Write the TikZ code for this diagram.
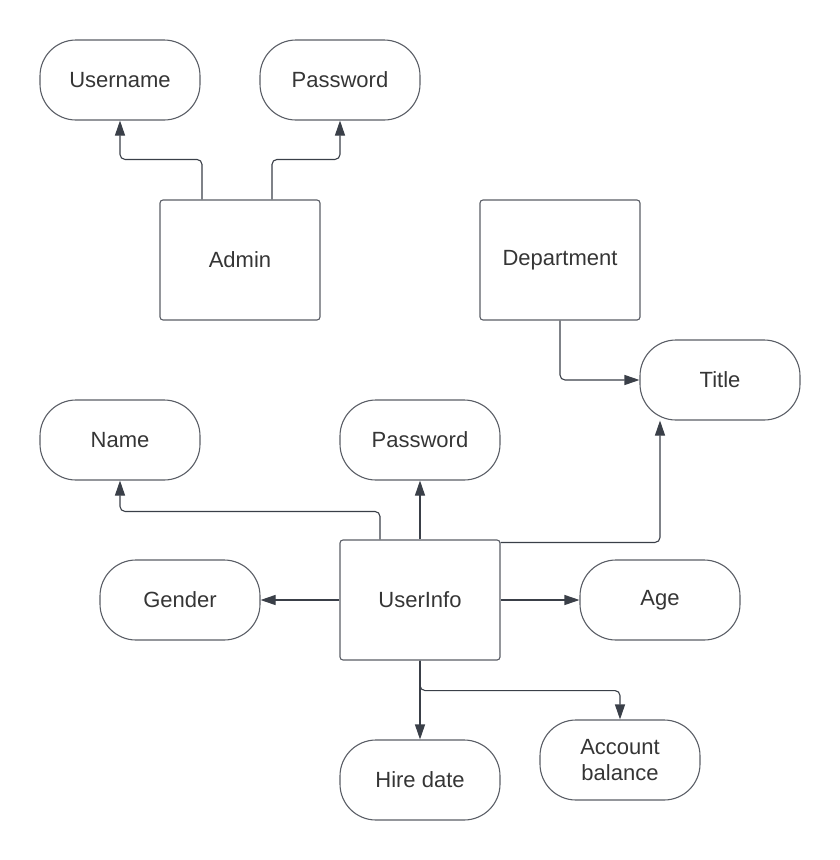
\documentclass[tikz,border=0pt]{standalone}
\usepackage{fontspec}
\setmainfont{Liberation Sans}
\usetikzlibrary{arrows.meta}

\definecolor{edgegray}{HTML}{5A5E66}
\definecolor{linkgray}{HTML}{3A3F48}
\definecolor{textgray}{HTML}{353535}

\begin{document}
\begin{tikzpicture}[x=1pt, y=-1pt,
	every node/.style={font=\fontsize{22}{26}\selectfont, text=textgray},
	attr/.style={draw=edgegray, line width=1.1pt, rounded corners=36pt, minimum width=160pt, minimum height=80pt, inner sep=0pt, align=center},
	entity/.style={draw=edgegray, line width=1.1pt, rounded corners=3pt, minimum width=160pt, minimum height=120pt, inner sep=0pt},
	link/.style={draw=linkgray, line width=1.1pt, rounded corners=5pt, -{Triangle[length=15pt, width=10pt]}}]
				\useasboundingbox (0,0) rectangle (840,860);
				
				% Entities
				\node[entity] (admin) at (240,260) {Admin};
				\node[entity] (dept) at (560,260) {Department};
				\node[entity] (info) at (420,600) {UserInfo};
				
				% Attributes
				\node[attr] (uname) at (120,80) {Username};
				\node[attr] (apass) at (340,80) {Password};
				\node[attr] (title) at (720,380) {Title};
				\node[attr] (name) at (120,440) {Name};
				\node[attr] (upass) at (420,440) {Password};
				\node[attr] (gender) at (180,600) {Gender};
				\node[attr] (age) at (660,600) {Age};
				\node[attr] (hire) at (420,780) {Hire date};
				\node[attr] (acct) at (620,760) {Account\\balance};
				
				% Admin links
				\draw[link] ([xshift=-38pt]admin.north) -- ++(0,-40) -| (uname.south);
				\draw[link] ([xshift=32pt]admin.north) -- ++(0,-40) -| (apass.south);
				
				% Department link
				\draw[link] (dept.south) |- (title.west);
				
				% UserInfo links
				\draw[link] ([xshift=-40pt]info.north) -- ++(0,-28) -| (name.south);
				\draw[link] (info.north) -- (upass.south);
				\draw[link] ([yshift=-3pt]info.north east) -| ([xshift=-60pt]title.south);
				\draw[link] (info.west) -- (gender.east);
				\draw[link] (info.east) -- (age.west);
				\draw[link] (info.south) -- (hire.north);
				\draw[link] (info.south) -- ++(0,30) -| (acct.north);
			\end{tikzpicture}
\end{document}
